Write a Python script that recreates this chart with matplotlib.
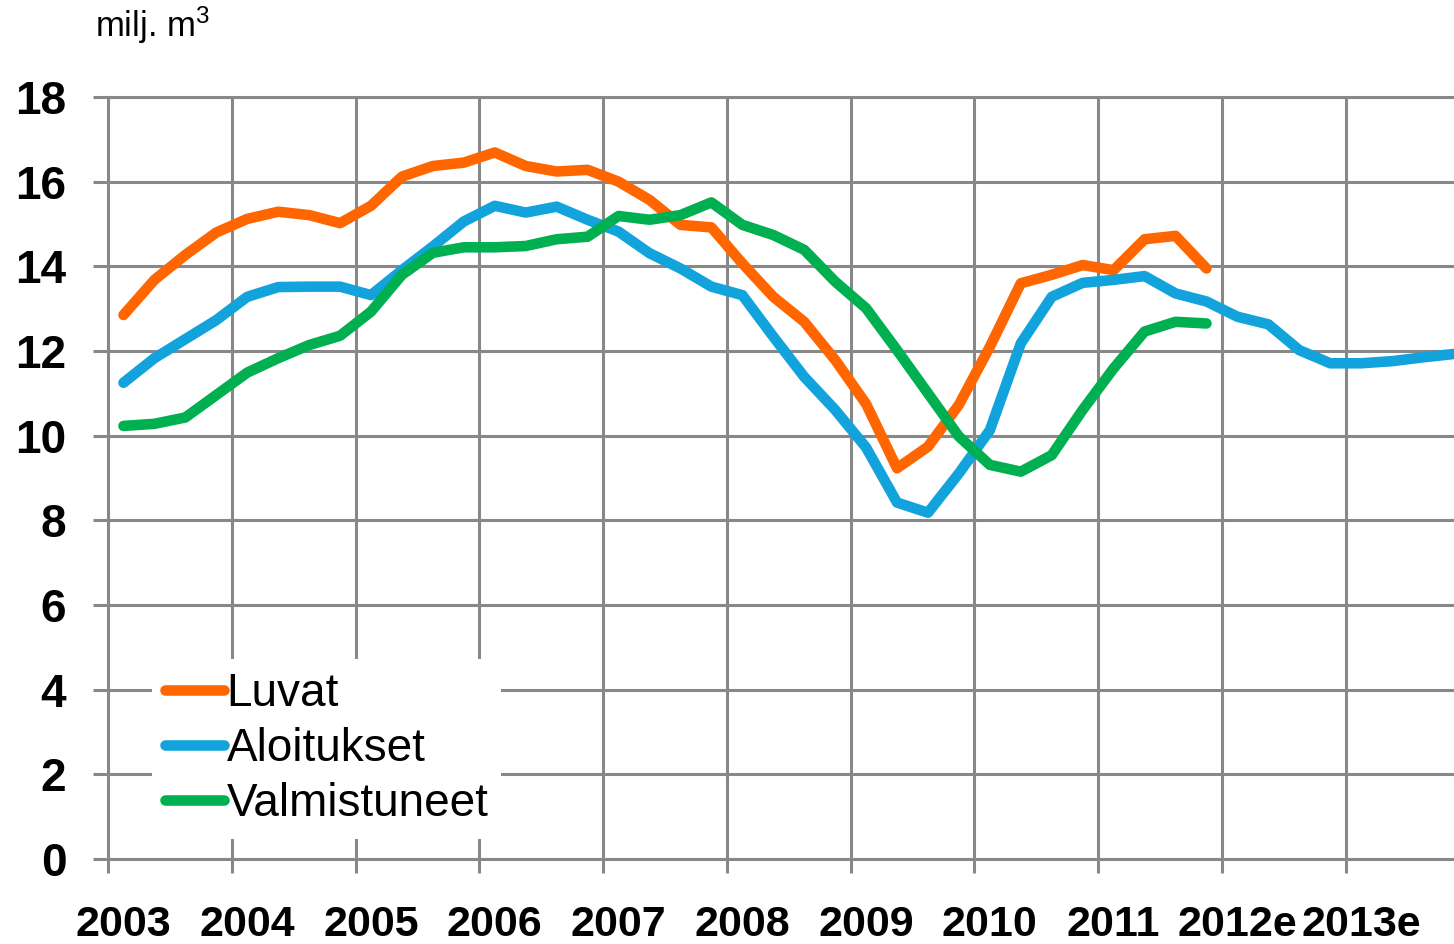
import matplotlib
matplotlib.use("Agg")
import matplotlib.pyplot as plt
import numpy as np

plt.rcParams['font.family'] = ['Liberation Sans', 'DejaVu Sans']
plt.rcParams['mathtext.fontset'] = 'custom'
plt.rcParams['mathtext.rm'] = 'Liberation Sans'
plt.rcParams['mathtext.it'] = 'Liberation Sans'

# ---- data (quarterly, 2003Q1 .. 2013Q4) ----
year_labels = ['2003', '2004', '2005', '2006', '2007', '2008', '2009',
               '2010', '2011', '2012e', '2013e']

luvat = [12.85, 13.68, 14.27, 14.80, 15.12, 15.29, 15.21, 15.02,
         15.43, 16.12, 16.37, 16.45, 16.69, 16.37, 16.24, 16.28,
         16.00, 15.57, 14.98, 14.92, 14.07, 13.28, 12.69, 11.79,
         10.75, 9.23, 9.74, 10.73, 12.10, 13.60, 13.80, 14.03,
         13.91, 14.64, 14.72, 13.95]

aloitukset = [11.25, 11.83, 12.28, 12.73, 13.28, 13.51, 13.52, 13.52,
              13.32, 13.91, 14.47, 15.06, 15.43, 15.27, 15.41, 15.10,
              14.82, 14.31, 13.95, 13.52, 13.32, 12.34, 11.39, 10.61,
              9.72, 8.42, 8.18, 9.11, 10.13, 12.18, 13.28, 13.61,
              13.68, 13.77, 13.36, 13.17, 12.81, 12.63, 12.02, 11.71,
              11.71, 11.76, 11.85, 11.93]

valmistuneet = [10.23, 10.28, 10.43, 10.96, 11.49, 11.83, 12.14, 12.36,
                12.93, 13.80, 14.32, 14.45, 14.45, 14.48, 14.64, 14.70,
                15.19, 15.10, 15.21, 15.51, 14.98, 14.74, 14.39, 13.64,
                13.01, 12.02, 11.00, 9.98, 9.31, 9.15, 9.54, 10.61,
                11.59, 12.46, 12.69, 12.65]

series_names = ['Luvat', 'Aloitukset', 'Valmistuneet']
series_colors = ['#FF6600', '#12A3DC', '#00B050']
y_ticks = [0, 2, 4, 6, 8, 10, 12, 14, 16, 18]

GRID = '#888888'

W, H = 1454, 944
fig = plt.figure(figsize=(W / 100, H / 100), dpi=100)
ax = fig.add_axes([108 / W, 1 - 859 / H, (1454 - 108) / W, (859 - 97) / H])

for vals, name, col in zip([luvat, aloitukset, valmistuneet], series_names, series_colors):
    x = np.arange(len(vals))
    ax.plot(x, vals, color=col, lw=7.6, solid_capstyle='round',
            solid_joinstyle='round', label=name, zorder=3, clip_on=False)

n_q = 4 * len(year_labels)
ax.set_xlim(-0.5, n_q - 1)
ax.set_ylim(0, 18)

# x: labels at first quarter of each year, tick marks / grid at year boundaries
ax.set_xticks(np.arange(0, n_q, 4))
ax.set_xticklabels(year_labels, fontsize=31, fontweight='bold')
ax.set_xticks(np.arange(-0.5, n_q - 1, 4), minor=True)
ax.tick_params(axis='x', which='major', length=0, pad=33)
ax.tick_params(axis='x', which='minor', length=10, width=2.2, color=GRID, direction='out')
ax.grid(True, axis='x', which='minor', color=GRID, lw=2.2, zorder=1)

ax.set_yticks(y_ticks)
ax.set_yticklabels([str(v) for v in y_ticks], fontsize=33, fontweight='bold')
ax.tick_params(axis='y', length=11, width=2.2, color=GRID, pad=19)
ax.grid(True, axis='y', which='major', color=GRID, lw=2.2, zorder=1)
ax.set_axisbelow(True)

for s in ['left', 'bottom', 'top']:
    ax.spines[s].set_color(GRID)
    ax.spines[s].set_linewidth(2.2)
ax.spines['right'].set_visible(False)

leg = ax.legend(loc='upper left', bbox_to_anchor=(152 / W, 1 - 659 / H),
                bbox_transform=fig.transFigure, fontsize=33, frameon=True,
                fancybox=False, framealpha=1, facecolor='white', edgecolor='none',
                handlelength=1.3, handletextpad=0.05, labelspacing=0.24,
                borderpad=0.28, borderaxespad=0)
for h in leg.get_lines():
    h.set_linewidth(7.6)
    h.set_solid_capstyle('round')
leg.set_zorder(5)

fig.text(95 / W, 1 - 37 / H, 'milj. m$^{3}$', fontsize=25, ha='left', va='baseline')

fig.savefig('out.png', dpi=100)
